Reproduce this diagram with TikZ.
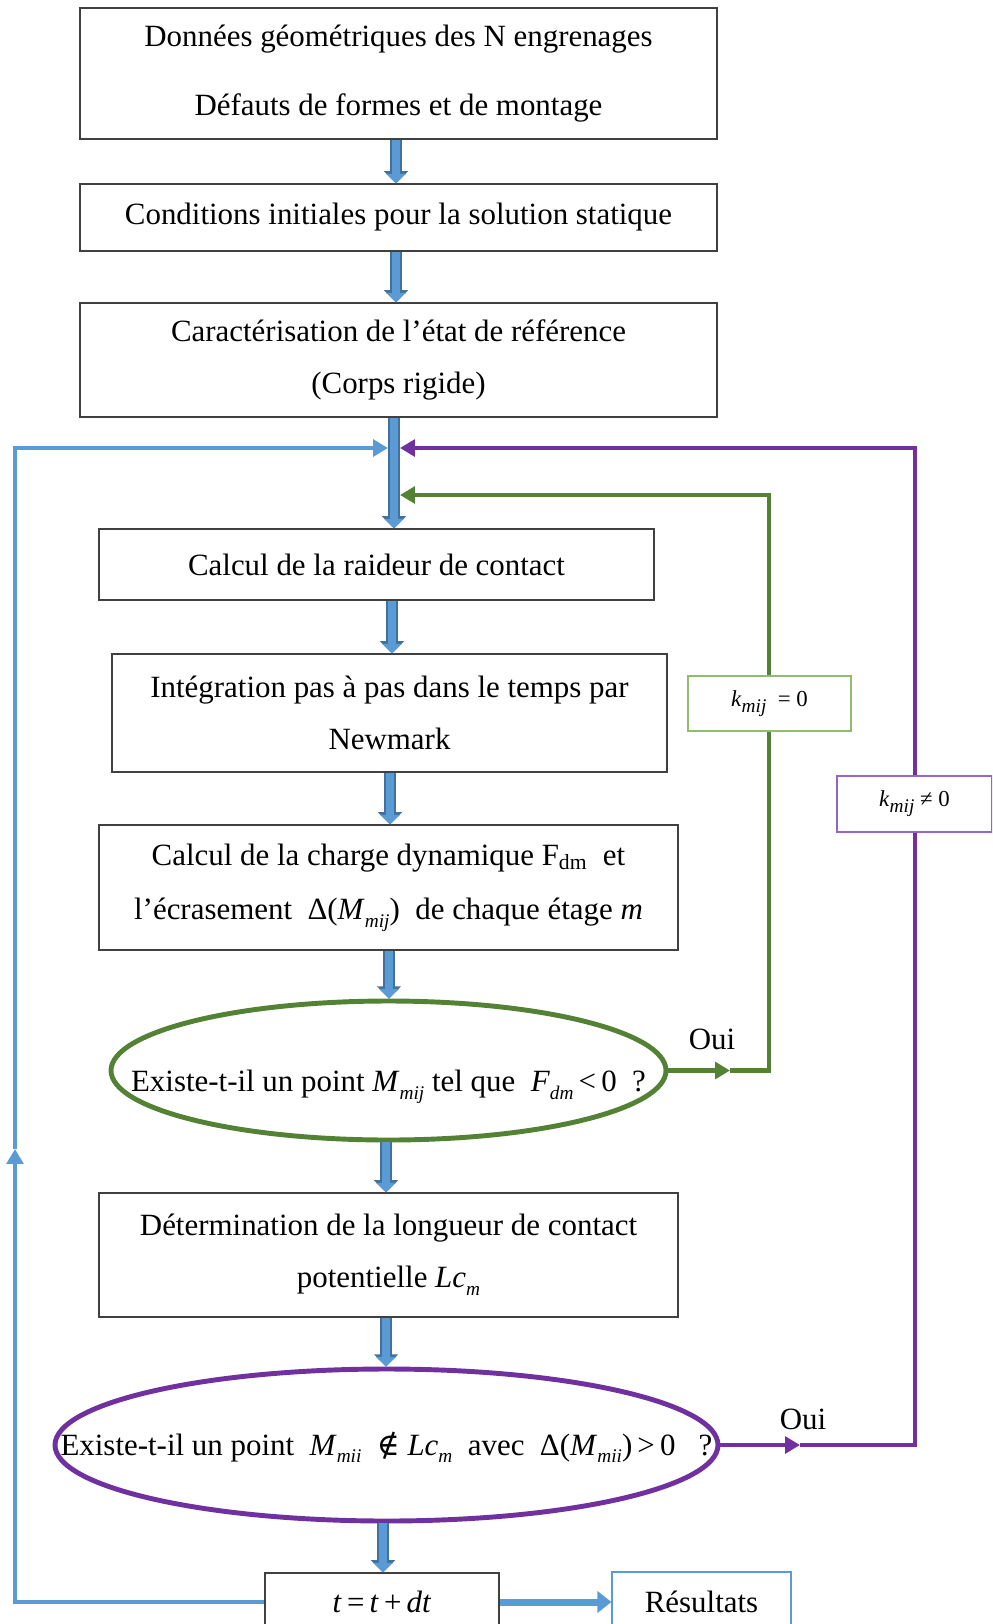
\documentclass[tikz,border=0pt]{standalone}
\usepackage{fontspec}
\setmainfont{Liberation Serif}
\newfontfamily\symbfont{DejaVu Serif}
\usetikzlibrary{arrows.meta,positioning,shapes.geometric}
\definecolor{flowblue}{RGB}{91,155,213}
\definecolor{flowedge}{RGB}{65,113,156}
\definecolor{loopgreen}{RGB}{84,130,53}
\definecolor{boxgreen}{RGB}{143,188,110}
\definecolor{looppurple}{RGB}{112,48,160}
\definecolor{boxpurple}{RGB}{150,100,200}
\definecolor{frame}{RGB}{64,64,64}
\newdimen\px \px=0.02cm
\newcommand{\vi}[1]{\textit{#1}}
\newcommand{\vsub}[1]{\raisebox{-0.55ex}{\fontsize{11}{12}\selectfont\itshape #1}}

\tikzset{
 stage/.style={draw=frame,line width=0.6pt,fill=white,align=center,inner sep=0pt,
   font=\fontsize{17.6}{29.5}\selectfont},
 test/.style={ellipse,line width=2.8pt,fill=white,inner sep=0pt,text height=0pt,text depth=0pt,
   font=\fontsize{17.6}{20}\selectfont},
 cond/.style={fill=white,line width=0.8pt,inner sep=0pt,font=\fontsize{13}{16}\selectfont},
 blockarrow/.style={draw=flowblue,line width=5pt,-{Triangle[width=11pt,length=5.5pt]},
   preaction={draw=flowedge,line width=6.5pt,-{Triangle[width=13.5pt,length=7pt]}}},
 loopline/.style={line width=2.6pt,-{Triangle[width=9.5pt,length=8.5pt]}},
 oui/.style={font=\fontsize{17.6}{20}\selectfont}
}

\begin{document}
\begin{tikzpicture}[x=0.02cm,y=-0.02cm]
 \useasboundingbox (0,0) rectangle (992,1624);
 \clip (0,0) rectangle (992,1624);

 % etapes initiales
 \node[stage,minimum width={637*\px},minimum height={131*\px},
   font=\fontsize{17.6}{39.7}\selectfont] (geom) at (398.5,73.5)
   {Données géométriques des N engrenages\\Défauts de formes et de montage};
 \node[stage,minimum width={637*\px},minimum height={67*\px}] (init) at (398.5,217.5)
   {Conditions initiales pour la solution statique};
 \node[stage,minimum width={637*\px},minimum height={114*\px}] (ref) at (398.5,360)
   {Caractérisation de l’état de référence\\(Corps rigide)};

 % boucle en temps
 \node[stage,minimum width={555*\px},minimum height={71*\px}] (raid) at (376.5,564.5)
   {Calcul de la raideur de contact};
 \node[stage,minimum width={555*\px},minimum height={118*\px}] (newm) at (389.5,713)
   {Intégration pas à pas dans le temps par\\Newmark};
 \node[stage,minimum width={579*\px},minimum height={125*\px},
   font=\fontsize{17.6}{31}\selectfont] (charge) at (388.5,887.5)
   {Calcul de la charge dynamique F\textsubscript{dm}\ \ et\\
    l’écrasement \ Δ(\vi{M}\vsub{mij})\ \ de chaque étage \vi{m}};
 \node[test,draw=loopgreen,minimum width={555*\px},minimum height={139*\px}] (tfdm) at (388.5,1070.5)
   {\makebox[0pt]{\raisebox{-12pt}{Existe-t-il un point \vi{M}\vsub{mij} tel que \ \vi{F}\vsub{dm}\,<\,0 \ ?}}};
 \node[stage,minimum width={579*\px},minimum height={124*\px}] (lc) at (388.5,1255)
   {Détermination de la longueur de contact\\potentielle \vi{Lc}\vsub{m}};
 \node[test,draw=looppurple,minimum width={663*\px},minimum height={152*\px}] (tdelta) at (386.5,1445)
   {\makebox[0pt]{\raisebox{-5.7pt}{Existe-t-il un point \ \vi{M}\vsub{mii}\ \ {\symbfont ∉}\ \vi{Lc}\vsub{m} \ avec \ Δ(\vi{M}\vsub{mii})\,>\,0 \ \ ?}}};
 \node[stage,minimum width={234*\px},minimum height={58*\px}] (pas) at (382,1602)
   {\vi{t}\,=\,\vi{t}\,+\,\vi{dt}};
 \node[stage,draw=flowblue,minimum width={179*\px},minimum height={60*\px}] (res) at (701.5,1602)
   {Résultats};

 % points de passage des boucles
 \coordinate (gmid) at (730,0);
 \coordinate (grail) at (769,495);
 \coordinate (gend) at (400,495);
 \coordinate (pmid) at (800,0);
 \coordinate (prail) at (915,448);
 \coordinate (pend) at (400,448);
 \coordinate (bmid) at (15,1149);
 \coordinate (bend) at (388,448);

 % retour Oui (vert)
 \draw[loopline,loopgreen] (tfdm.east) -- (tfdm.east -| gmid);
 \draw[loopline,loopgreen] (tfdm.east -| gmid) -| (grail) -- (gend);
 \node[oui] (oui1) at (712,1039) {Oui};
 \node[cond,draw=boxgreen,minimum width={163*\px},minimum height={55*\px}] (knul) at (769.5,703.5)
   {\vi{k}\vsub{mij}\ \ = 0};

 % retour Oui (violet)
 \draw[loopline,looppurple] (tdelta.east) -- (tdelta.east -| pmid);
 \draw[loopline,looppurple] (tdelta.east -| pmid) -| (prail) -- (pend);
 \node[oui] (oui2) at (803,1419) {Oui};
 \node[cond,draw=boxpurple,minimum width={155*\px},minimum height={56*\px}] (knon) at (914.5,804)
   {\vi{k}\vsub{mij} ≠ 0};

 % pas de temps suivant
 \draw[loopline,flowblue] (pas.west) -| (bmid);
 \draw[loopline,flowblue] (bmid) |- (bend);
 \draw[flowblue,line width=4pt,-{Triangle[width=12pt,length=8pt]}] (pas.east) -- (res.west);

 % fleches principales
 \draw[blockarrow] (geom.south -| 396,0) -- (init.north -| 396,0);
 \draw[blockarrow] (init.south -| 396,0) -- (ref.north -| 396,0);
 \draw[blockarrow] (ref.south -| 394,0) -- (raid.north -| 394,0);
 \draw[blockarrow] (raid.south -| 392,0) -- (newm.north -| 392,0);
 \draw[blockarrow] (newm.south -| 390,0) -- (charge.north -| 390,0);
 \draw[blockarrow] (charge.south -| 389,0) -- (tfdm.north -| 389,0);
 \draw[blockarrow] (tfdm.south -| 386,0) -- (lc.north -| 386,0);
 \draw[blockarrow] (lc.south -| 386,0) -- (tdelta.north -| 386,0);
 \draw[blockarrow] (tdelta.south -| 383,0) -- (pas.north -| 383,0);
\end{tikzpicture}
\end{document}
